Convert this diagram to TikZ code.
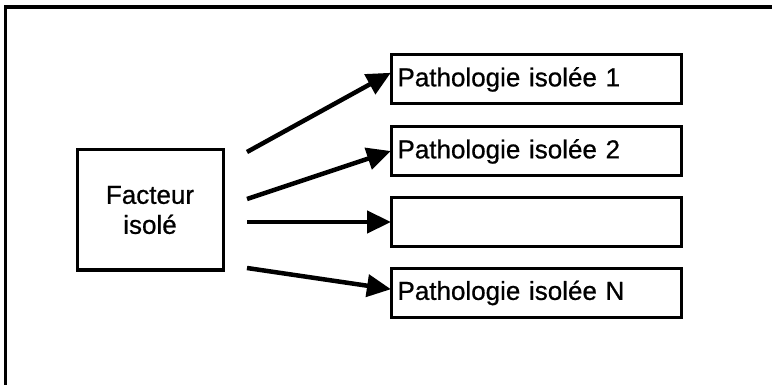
\documentclass[tikz,border=0pt]{standalone}
\usepackage{fontspec}
\setmainfont{Liberation Sans}
\newfontfamily\scanfont{Liberation Sans}[FakeBold=0.7]
\usetikzlibrary{arrows.meta}
\tikzset{
  box/.style={draw, line width=3pt, inner sep=0pt},
  pbox/.style={box, minimum width=290pt, minimum height=49pt, text width=277pt, align=left, font=\scanfont\fontsize{26}{30}\selectfont},
  fbox/.style={box, minimum width=146pt, minimum height=120pt, align=center, font=\scanfont\fontsize{26}{30}\selectfont},
  arr/.style={line width=4.5pt, -{Triangle[length=24pt,width=22pt]}, shorten >=-1.5pt},
  frame/.style={line width=3.5pt}
}
\begin{document}
\begin{tikzpicture}[x=1pt,y=-1pt]
\useasboundingbox (0,0) rectangle (772,385);
\draw[frame] (772,7) -- (5.5,7) -- (5.5,385);
\node[fbox] (f) at (150,210) {Facteur\\isolé};
\node[pbox] (p1) at (536,79.5) {Pathologie isolée 1};
\node[pbox] (p2) at (536,151.5) {Pathologie isolée 2};
\node[pbox] (p3) at (536,222) {};
\node[pbox] (p4) at (536,293) {Pathologie isolée N};
\coordinate (s1) at (247,152);
\coordinate (s2) at (247,199);
\coordinate (s3) at (247,222);
\coordinate (s4) at (247,268);
\draw[arr] (s1) -- ([yshift=6pt]p1.west);
\draw[arr] (s2) -- (p2.west);
\draw[arr] (s3) -- (p3.west);
\draw[arr] (s4) -- ([yshift=4pt]p4.west);
\end{tikzpicture}
\end{document}
